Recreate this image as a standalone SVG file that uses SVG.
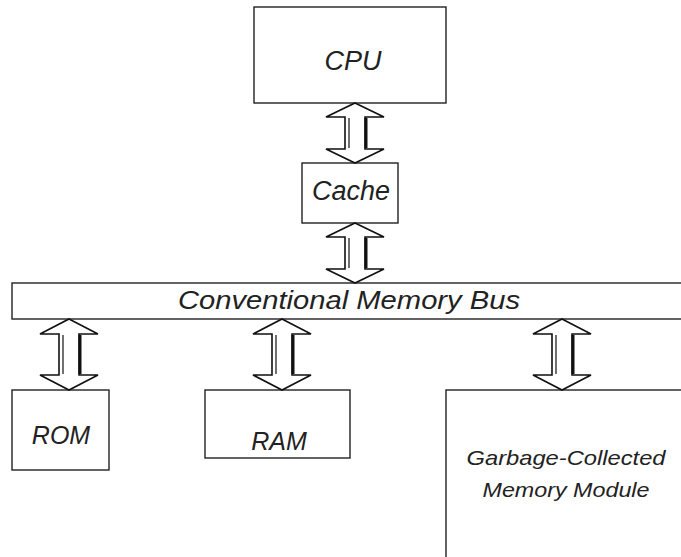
<svg xmlns="http://www.w3.org/2000/svg" width="681" height="557" viewBox="0 0 681 557">
  <style>
    .box { fill: #ffffff; stroke: #222; stroke-width: 1.4; }
    .lbl { font-family: "Liberation Sans", "DejaVu Sans", sans-serif; font-style: italic; fill: #222; text-anchor: middle; }
    .arrow { fill: #ffffff; stroke: #111; stroke-width: 1.6; stroke-linejoin: miter; }
    .inner { stroke: #111; stroke-width: 1.2; fill: none; }
    .shade { stroke: #111; stroke-width: 3; fill: none; }
  </style>
  <rect width="681" height="557" fill="#ffffff"/>

  <g id="cpu">
    <rect class="box" x="254" y="7" width="192" height="96"/>
    <text class="lbl" x="353" y="70" font-size="27">CPU</text>
  </g>

  <g id="cache">
    <rect class="box" x="302" y="163" width="96" height="60"/>
    <text class="lbl" x="351" y="200" font-size="27" textLength="78" lengthAdjust="spacingAndGlyphs">Cache</text>
  </g>

  <g id="bus">
    <rect class="box" x="12" y="283" width="675" height="36"/>
    <text class="lbl" x="349" y="309" font-size="26" textLength="342" lengthAdjust="spacingAndGlyphs">Conventional Memory Bus</text>
  </g>

  <g id="rom">
    <rect class="box" x="12" y="390" width="97" height="80"/>
    <text class="lbl" x="61" y="444" font-size="25">ROM</text>
  </g>

  <g id="ram">
    <rect class="box" x="205" y="390" width="145" height="68"/>
    <text class="lbl" x="279" y="450" font-size="25">RAM</text>
  </g>

  <g id="gc-memory">
    <rect class="box" x="446" y="390" width="250" height="180"/>
    <text class="lbl" x="566" y="465" font-size="21" textLength="199" lengthAdjust="spacingAndGlyphs">Garbage-Collected</text>
    <text class="lbl" x="566" y="497" font-size="21" textLength="167" lengthAdjust="spacingAndGlyphs">Memory Module</text>
  </g>

  <g id="connectors">
    <!-- CPU <-> Cache -->
    <path class="arrow" d="M355 103 L384 117 L365 117 L365 149 L384 149 L355 163 L326 149 L345 149 L345 117 L326 117 Z"/>
    <line class="inner" x1="349" y1="118" x2="349" y2="148"/>
    <line class="shade" x1="366" y1="118" x2="366" y2="148"/>
    <!-- Cache <-> Bus -->
    <path class="arrow" d="M355 223 L384 237 L365 237 L365 269 L384 269 L355 283 L326 269 L345 269 L345 237 L326 237 Z"/>
    <line class="inner" x1="349" y1="238" x2="349" y2="268"/>
    <line class="shade" x1="366" y1="238" x2="366" y2="268"/>
    <!-- Bus <-> ROM -->
    <path class="arrow" d="M69 319 L98 334 L79 334 L79 375 L98 375 L69 390 L40 375 L59 375 L59 334 L40 334 Z"/>
    <line class="inner" x1="63" y1="335" x2="63" y2="374"/>
    <line class="shade" x1="80" y1="335" x2="80" y2="374"/>
    <!-- Bus <-> RAM -->
    <path class="arrow" d="M282 319 L311 334 L292 334 L292 375 L311 375 L282 390 L253 375 L272 375 L272 334 L253 334 Z"/>
    <line class="inner" x1="276" y1="335" x2="276" y2="374"/>
    <line class="shade" x1="293" y1="335" x2="293" y2="374"/>
    <!-- Bus <-> Garbage-Collected Memory Module -->
    <path class="arrow" d="M562 319 L591 334 L572 334 L572 375 L591 375 L562 390 L533 375 L552 375 L552 334 L533 334 Z"/>
    <line class="inner" x1="556" y1="335" x2="556" y2="374"/>
    <line class="shade" x1="573" y1="335" x2="573" y2="374"/>
  </g>
</svg>
